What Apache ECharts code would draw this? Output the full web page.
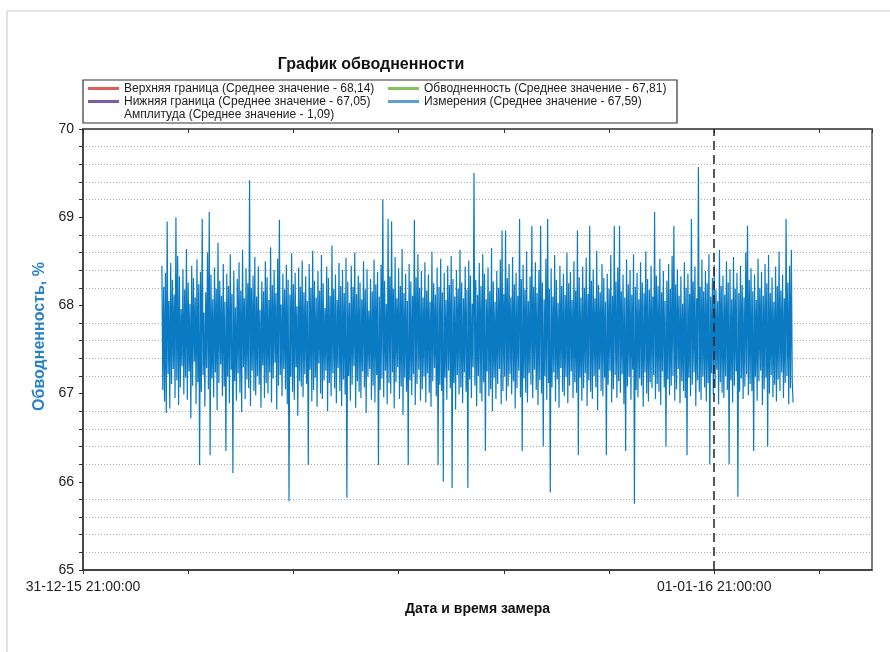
<!DOCTYPE html>
<html>
<head>
<meta charset="utf-8">
<title>График обводненности</title>
<script src="https://cdn.jsdelivr.net/npm/echarts@6/dist/echarts.min.js"></script>
<style>
  html, body { margin: 0; padding: 0; background: #fff; }
  #chart { width: 890px; height: 652px; }
</style>
</head>
<body>
<div id="chart"></div>
<script>
  // часы от 31-12-15 21:00:00; замеры с 01-01-16 00:00 каждые 2 минуты
  const startHour = 3;
  const stepMinutes = 2;
  const markerHour = 24;

  const xLabelHours = [0, 24];
  const xLabelTexts = ['31-12-15 21:00:00', '01-01-16 21:00:00'];

  const seriesNames = [
    'Верхняя граница (Среднее значение - 68,14)',
    'Нижняя граница (Среднее значение - 67,05)',
    'Амплитуда (Среднее значение - 1,09)',
    'Обводненность (Среднее значение - 67,81)',
    'Измерения (Среднее значение - 67,59)'
  ];
  const seriesColors = ['#e35b55', '#7b5ca8', 'rgba(0,0,0,0)', '#88c25a', '#0a7bc2'];

  const measurements = [
    68.45, 67.04, 68.21, 66.91, 68.37, 66.78, 68.95, 67.22, 68.05, 66.83, 68.48, 67.11, 68.29, 67.28, 68.12, 66.95, 69.00, 67.15, 68.56, 66.87,
    68.33, 67.07, 67.96, 67.31, 68.41, 66.99, 68.18, 67.18, 68.64, 66.93, 68.26, 67.25, 68.02, 66.72, 68.45, 67.09, 68.31, 67.36, 68.09, 66.88,
    68.52, 67.13, 68.24, 66.19, 68.38, 67.02, 68.98, 67.21, 67.92, 66.85, 68.15, 67.29, 68.60, 67.05, 69.06, 66.30, 68.35, 67.17, 68.07, 66.96,
    68.43, 67.24, 68.19, 66.81, 68.71, 67.12, 68.28, 67.33, 68.11, 66.97, 68.47, 67.08, 68.04, 66.35, 68.36, 67.19, 68.22, 66.89, 68.58, 67.27,
    68.13, 66.10, 68.39, 67.14, 67.98, 66.92, 68.30, 67.23, 68.49, 67.01, 68.17, 66.79, 68.63, 67.30, 68.08, 66.94, 68.42, 67.16, 68.25, 67.06,
    69.42, 66.86, 68.20, 67.26, 68.34, 67.03, 68.55, 66.98, 68.10, 67.20, 68.44, 67.10, 67.95, 66.84, 68.27, 67.32, 68.16, 66.95, 68.50, 67.12,
    68.32, 67.00, 68.06, 67.24, 68.66, 66.90, 68.23, 67.17, 68.40, 67.35, 68.14, 66.82, 68.53, 67.09, 68.97, 67.21, 68.01, 66.97, 68.36, 67.28,
    68.18, 67.05, 68.46, 66.88, 68.29, 65.78, 68.12, 67.19, 68.59, 67.02, 68.24, 66.93, 68.37, 67.30, 67.99, 66.75, 68.43, 67.14, 68.21, 67.08,
    68.51, 66.96, 68.15, 67.22, 68.33, 67.11, 68.05, 66.19, 68.47, 67.27, 68.20, 66.91, 68.62, 67.04, 68.28, 67.18, 68.09, 66.85, 68.39, 67.34,
    68.17, 67.00, 68.57, 66.94, 68.25, 67.15, 67.97, 67.26, 68.44, 66.80, 68.31, 67.12, 68.11, 66.97, 68.68, 67.23, 68.19, 67.06, 68.35, 66.89,
    68.06, 67.29, 68.48, 67.03, 68.22, 66.86, 68.40, 67.16, 68.14, 66.99, 68.54, 65.82, 68.27, 67.20, 68.03, 66.92, 68.45, 67.10, 68.21, 67.31,
    68.60, 66.84, 68.13, 67.14, 68.34, 67.02, 68.26, 66.95, 68.07, 67.25, 68.50, 67.07, 68.18, 66.78, 68.41, 67.19, 67.94, 67.28, 68.30, 66.93,
    68.16, 67.09, 68.52, 66.90, 68.24, 67.21, 68.38, 66.19, 68.10, 67.04, 68.46, 67.17, 69.20, 66.96, 68.28, 67.26, 68.02, 66.88, 68.98, 67.12,
    68.33, 67.00, 68.95, 67.24, 68.19, 66.83, 68.55, 67.13, 68.08, 67.30, 68.42, 66.94, 68.22, 67.08, 68.64, 66.76, 68.14, 67.18, 68.36, 67.02,
    68.05, 66.19, 68.47, 67.15, 68.27, 66.98, 68.11, 67.22, 68.97, 66.87, 68.32, 67.11, 68.58, 67.27, 68.20, 66.92, 68.39, 67.05, 68.09, 67.19,
    68.49, 66.90, 68.17, 67.23, 68.35, 67.01, 68.04, 66.85, 68.61, 67.14, 68.25, 67.29, 68.12, 66.97, 68.43, 66.19, 68.21, 67.10, 68.53, 67.03,
    68.15, 66.00, 68.37, 67.18, 68.06, 66.93, 68.45, 67.26, 68.23, 67.06, 68.56, 65.93, 68.30, 67.12, 68.10, 66.82, 68.40, 67.21, 68.19, 66.99,
    68.63, 67.07, 68.26, 66.89, 68.08, 67.24, 68.44, 67.02, 68.18, 65.93, 68.51, 67.16, 68.34, 66.95, 68.02, 67.30, 69.50, 67.09, 68.29, 66.86,
    68.12, 67.20, 68.48, 67.00, 68.22, 66.91, 68.58, 67.13, 68.36, 66.35, 68.07, 67.25, 68.43, 66.97, 68.16, 67.05, 68.65, 66.80, 68.27, 67.18,
    68.04, 66.94, 68.39, 67.11, 68.20, 67.28, 68.52, 66.88, 68.85, 67.03, 68.13, 67.19, 68.85, 66.92, 68.31, 67.08, 68.47, 67.22, 68.09, 66.99,
    68.55, 67.14, 68.24, 66.83, 68.37, 67.06, 68.11, 67.26, 68.98, 66.96, 68.30, 66.35, 68.46, 67.17, 68.18, 67.01, 68.61, 66.90, 68.05, 67.23,
    68.33, 67.10, 68.90, 66.95, 68.21, 67.27, 68.49, 67.04, 68.14, 66.87, 68.40, 67.15, 68.90, 67.00, 68.26, 66.40, 68.07, 67.20, 68.53, 66.93,
    68.98, 67.12, 68.19, 65.88, 68.42, 67.07, 68.10, 67.24, 68.57, 66.91, 68.29, 67.16, 68.03, 66.84, 68.45, 67.29, 68.22, 67.02, 68.36, 66.97,
    68.12, 67.19, 68.60, 66.89, 68.25, 67.09, 68.38, 67.25, 68.06, 66.95, 68.50, 67.13, 68.17, 67.01, 68.85, 66.30, 68.32, 67.18, 68.09, 66.92,
    68.44, 67.06, 68.20, 67.23, 68.54, 66.86, 68.13, 67.15, 68.90, 67.02, 68.28, 66.94, 68.41, 67.20, 68.08, 67.07, 68.62, 66.81, 68.23, 67.27,
    68.15, 67.03, 68.47, 66.97, 68.31, 67.18, 68.04, 66.30, 68.36, 67.10, 68.19, 67.26, 68.57, 66.90, 68.11, 67.05, 68.90, 67.21, 68.27, 66.95,
    68.43, 67.14, 68.90, 67.01, 68.16, 67.22, 68.35, 66.88, 68.09, 66.35, 68.52, 67.08, 68.24, 67.19, 68.40, 66.93, 68.12, 67.27, 68.58, 65.75,
    68.21, 67.04, 68.37, 66.96, 68.07, 67.17, 68.49, 67.09, 68.26, 66.85, 68.14, 67.24, 68.61, 67.00, 68.30, 66.91, 68.18, 67.13, 68.45, 67.06,
    68.10, 67.21, 69.06, 66.94, 68.34, 67.11, 68.22, 67.02, 68.53, 66.87, 68.15, 67.25, 68.39, 67.07, 68.05, 66.40, 68.28, 67.16, 68.47, 66.98,
    68.19, 67.09, 68.56, 67.20, 68.90, 66.92, 68.24, 67.05, 68.41, 67.28, 68.11, 66.89, 68.33, 67.14, 68.02, 67.03, 68.49, 66.95, 68.20, 66.30,
    68.36, 67.18, 68.13, 66.97, 68.98, 67.10, 68.27, 67.24, 68.44, 66.86, 68.08, 67.15, 69.57, 67.02, 68.21, 66.93, 68.52, 67.19, 68.16, 67.07,
    68.39, 66.91, 68.25, 67.12, 68.58, 66.20, 68.10, 67.23, 68.31, 66.99, 68.46, 67.06, 68.18, 67.27, 68.05, 66.88, 68.63, 67.13, 68.22, 67.01,
    68.34, 66.95, 68.12, 67.20, 68.50, 67.04, 68.26, 66.20, 68.41, 67.15, 68.07, 66.90, 68.55, 67.09, 68.19, 67.25, 68.37, 65.83, 68.14, 67.02,
    68.45, 67.17, 68.23, 66.94, 68.09, 67.08, 68.60, 67.22, 68.90, 66.98, 68.29, 67.11, 68.42, 67.03, 68.16, 66.35, 68.35, 67.19, 68.06, 66.92,
    68.53, 67.14, 68.20, 67.26, 68.38, 66.87, 68.11, 67.05, 68.47, 67.18, 68.25, 66.40, 68.57, 67.00, 68.14, 67.21, 68.32, 66.96, 68.04, 67.10,
    68.44, 66.91, 68.22, 67.16, 68.61, 67.03, 68.17, 67.24, 68.35, 66.95, 68.08, 67.12, 68.98, 67.20, 68.26, 66.88, 68.45, 67.06, 68.63, 67.15,
    66.90
  ];

  const measurementPoints = measurements.map((v, i) => [startHour + i * stepMinutes / 60, v]);

  const fontFamily = '"Liberation Sans", Arial, sans-serif';

  var myChart = echarts.init(document.getElementById('chart'));

  const series = seriesNames.map((name, k) => ({
    name: name,
    type: 'line',
    data: k === 4 ? measurementPoints : [],
    showSymbol: false,
    symbol: 'none',
    sampling: 'none',
    color: seriesColors[k],
    lineStyle: { width: 1.2, color: seriesColors[k] },
    animation: false
  }));
  series[4].markLine = {
    silent: true,
    symbol: ['none', 'none'],
    label: { show: false },
    lineStyle: { color: '#222', type: [9, 5], width: 1.5 },
    data: [{ xAxis: markerHour }]
  };

  const legendBase = {
    orient: 'vertical',
    top: 82,
    padding: 0,
    itemGap: 0,
    itemWidth: 31,
    itemHeight: 3,
    icon: 'rect',
    selectedMode: false,
    textStyle: { fontSize: 12, color: '#222', fontFamily: fontFamily, lineHeight: 13 }
  };

  const option = {
    backgroundColor: '#fff',
    animation: false,
    title: {
      text: 'График обводненности',
      left: 366,
      top: 52,
      textAlign: 'center',
      textStyle: { fontSize: 16, fontWeight: 'bold', color: '#111', fontFamily: fontFamily }
    },
    legend: [
      Object.assign({}, legendBase, { left: 88, data: seriesNames.slice(0, 3) }),
      Object.assign({}, legendBase, {
        left: 388,
        data: [seriesNames[3], { name: seriesNames[4], itemStyle: { color: '#5a9fd6' } }]
      })
    ],
    graphic: [
      {
        type: 'rect',
        shape: { x: 7, y: 11, width: 900, height: 700 },
        style: { fill: 'none', stroke: '#dcdcdc', lineWidth: 1.5 },
        silent: true
      },
      {
        type: 'rect',
        shape: { x: 83, y: 80, width: 594, height: 43 },
        style: { fill: 'none', stroke: '#333', lineWidth: 1.2 },
        silent: true,
        z: -1
      }
    ],
    grid: {
      left: 83, top: 129, right: 18, bottom: 82,
      show: true, borderColor: '#555', borderWidth: 1.5
    },
    xAxis: [
      {
        type: 'value',
        min: 0, max: 30, interval: 4,
        name: 'Дата и время замера',
        nameLocation: 'middle',
        nameGap: 32,
        nameTextStyle: { fontSize: 14, fontWeight: 'bold', color: '#111', fontFamily: fontFamily },
        axisLine: { lineStyle: { color: '#333', width: 1.5 } },
        axisTick: { length: 4, lineStyle: { color: '#333' } },
        axisLabel: {
          margin: 10,
          fontSize: 14, color: '#222', fontFamily: fontFamily,
          showMaxLabel: false,
          formatter: function (v) {
            var idx = xLabelHours.indexOf(v);
            return idx >= 0 ? xLabelTexts[idx] : '';
          }
        },
        splitLine: { show: false }
      },
      {
        type: 'value',
        position: 'top',
        min: 0, max: 30, interval: 4,
        axisLine: { lineStyle: { color: '#555', width: 1.5 } },
        axisTick: { inside: true, length: 4, lineStyle: { color: '#333' } },
        axisLabel: { show: false },
        splitLine: { show: false }
      }
    ],
    yAxis: {
      type: 'value',
      min: 65, max: 70, interval: 1,
      name: 'Обводненность, %',
      nameLocation: 'middle',
      nameGap: 34,
      nameTextStyle: {
        fontSize: 16, fontWeight: 'bold', color: '#2a82c6', fontFamily: fontFamily,
        padding: [0, 0, 0, 26]
      },
      axisLine: { show: true, lineStyle: { color: '#333', width: 1.5 } },
      axisTick: { show: true, length: 4, lineStyle: { color: '#333' } },
      minorTick: { show: true, splitNumber: 5, length: 4, lineStyle: { color: '#333' } },
      axisLabel: { margin: 9, fontSize: 14, color: '#222', fontFamily: fontFamily },
      splitLine: { show: false },
      minorSplitLine: { show: true, lineStyle: { color: '#a8a8a8', type: [1, 2], width: 1 } }
    },
    series: series
  };

  myChart.setOption(option);
</script>
</body>
</html>
